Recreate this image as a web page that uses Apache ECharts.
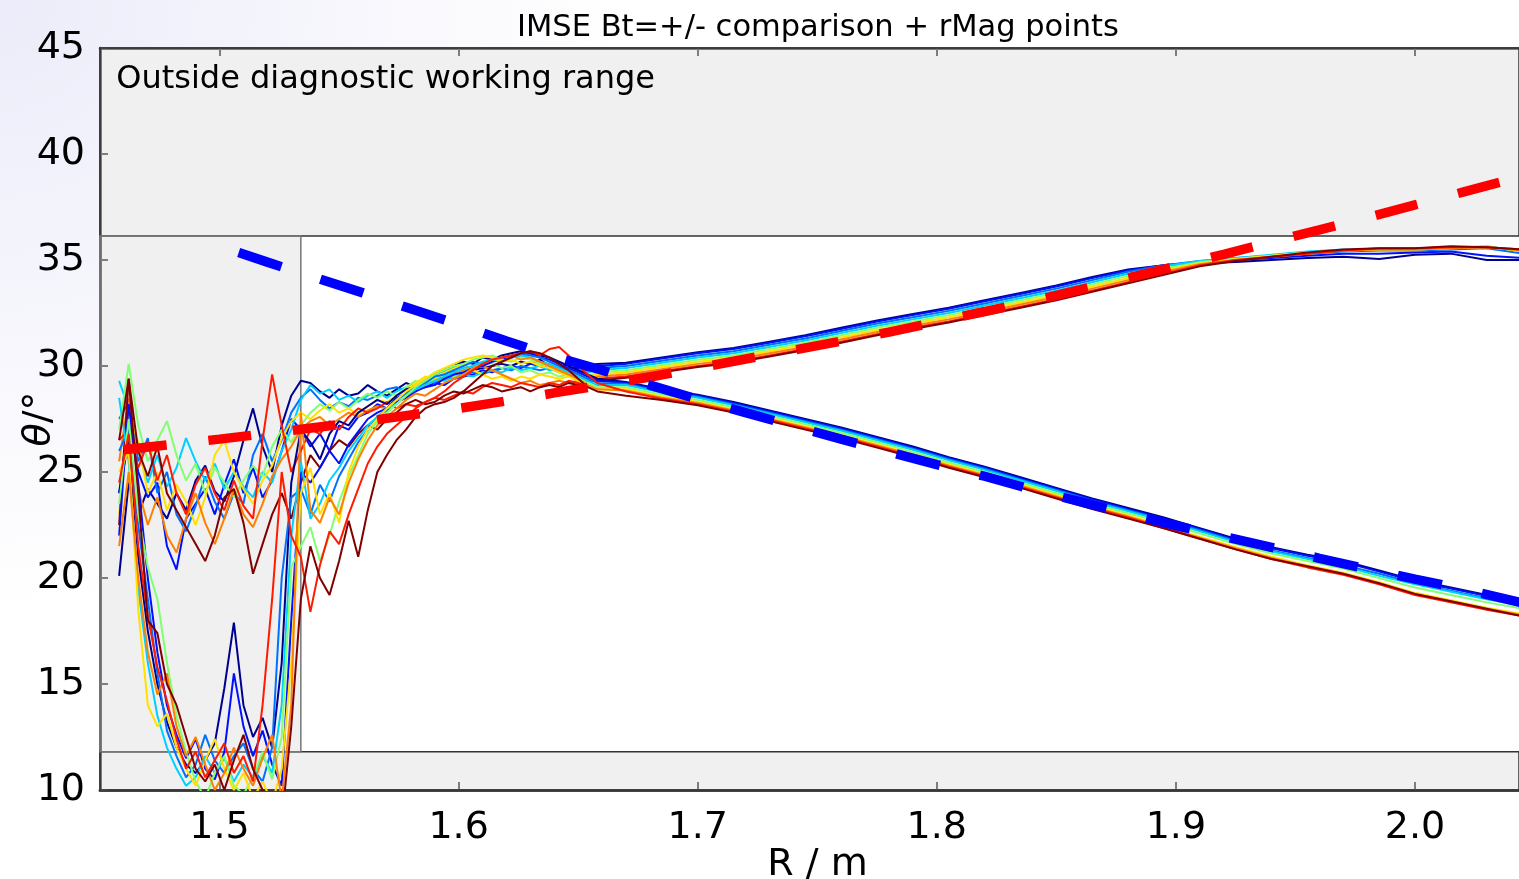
<!DOCTYPE html>
<html>
<head>
<meta charset="utf-8">
<script src="https://cdn.jsdelivr.net/npm/echarts@6/dist/echarts.min.js"></script>
<style>
  html, body { margin: 0; padding: 0; }
  #main { width: 1519px; height: 879px; }
</style>
</head>
<body>
<div id="main"></div>
<script type="text/javascript">
    // radius samples (dense where the profiles are noisy, coarse where smooth)
    var R = [1.458, 1.462, 1.466, 1.470, 1.474, 1.478, 1.482, 1.486, 1.490, 1.494,
        1.498, 1.502, 1.506, 1.510, 1.514, 1.518, 1.522, 1.526, 1.530, 1.534,
        1.538, 1.542, 1.546, 1.550, 1.554, 1.558, 1.562, 1.566, 1.570, 1.574,
        1.578, 1.582, 1.586, 1.590, 1.594, 1.598, 1.602, 1.606, 1.610, 1.614,
        1.618, 1.622, 1.626, 1.630, 1.634, 1.638, 1.642, 1.646, 1.650, 1.654,
        1.658,
        1.670, 1.685, 1.700, 1.715, 1.730, 1.745, 1.760, 1.775, 1.790, 1.805,
        1.820, 1.835, 1.850, 1.865, 1.880, 1.895, 1.910, 1.925, 1.940, 1.955,
        1.970, 1.985, 2.000, 2.015, 2.030, 2.045];

    // Bt+ profiles (rising branch)
    var upNavy = [20.1, 24.5, 23.0, 24.2, 23.5, 22.8, 24.0, 23.2, 24.6, 25.3, 24.1, 23.6, 24.8, 26.5, 28.0, 26.2, 25.0, 27.2, 28.6, 29.3, 29.2, 28.8, 28.5, 28.9, 28.6, 28.7, 29.1, 28.8, 28.6, 28.9, 29.2, 29.0, 29.3, 29.5, 29.4, 29.7, 29.6, 29.8, 29.9, 30.0, 30.1, 30.0, 30.2, 30.1, 30.3, 30.0, 29.9, 30.1, 30.0, 30.0, 30.1,
        30.15, 30.4, 30.65, 30.85, 31.15, 31.45, 31.8, 32.15, 32.45, 32.75, 33.1, 33.45, 33.8, 34.2, 34.55, 34.75, 34.85, 34.9, 35.0, 35.1, 35.15, 35.05, 35.25, 35.3, 35.0, 35.0];
    var upBlue = [24.0, 27.5, 25.0, 23.8, 24.5, 21.5, 20.4, 22.8, 23.5, 24.2, 23.0, 24.4, 25.6, 24.0, 25.2, 23.8, 24.6, 26.0, 27.5, 27.0, 26.2, 26.8, 26.0, 27.2, 27.0, 27.6, 27.8, 28.2, 28.0, 28.5, 28.7, 28.9, 29.0, 29.2, 29.1, 29.4, 29.5, 29.6, 29.8, 29.7, 29.9, 30.0, 29.9, 30.1, 30.0, 29.9, 29.8, 29.9, 29.9, 29.8, 30.0,
        30.1, 30.35, 30.6, 30.8, 31.1, 31.4, 31.75, 32.1, 32.4, 32.7, 33.05, 33.4, 33.75, 34.15, 34.5, 34.75, 34.9, 35.0, 35.1, 35.2, 35.3, 35.3, 35.35, 35.4, 35.2, 35.1];
    var upAzure = [27.5, 28.3, 25.5, 26.6, 24.0, 25.0, 23.0, 22.2, 23.4, 24.8, 23.6, 22.8, 24.0, 23.5, 25.8, 26.8, 25.5, 26.5, 27.8, 28.5, 28.9, 28.4, 28.0, 28.3, 28.1, 28.5, 28.4, 28.6, 28.9, 29.0, 28.8, 29.1, 29.3, 29.2, 29.5, 29.4, 29.6, 29.7, 29.6, 29.8, 29.9, 29.8, 30.0, 29.9, 29.8, 29.9, 29.7, 29.8, 29.8, 29.7, 29.9,
        30.0, 30.25, 30.5, 30.7, 31.0, 31.3, 31.65, 32.0, 32.3, 32.6, 32.95, 33.3, 33.65, 34.05, 34.45, 34.75, 34.95, 35.1, 35.2, 35.3, 35.4, 35.45, 35.45, 35.5, 35.55, 35.3];
    var upCyan = [29.3, 28.0, 26.0, 24.5, 25.8, 24.3, 25.2, 26.6, 25.5, 24.6, 25.4, 24.2, 25.0, 24.3, 23.8, 25.0, 24.5, 26.0, 27.0, 28.4, 29.1, 28.7, 28.9, 28.4, 28.6, 28.3, 28.6, 28.8, 28.5, 28.8, 29.0, 28.9, 29.2, 29.4, 29.3, 29.5, 29.6, 29.5, 29.7, 29.8, 29.7, 29.9, 29.8, 29.9, 30.0, 29.8, 29.9, 29.7, 29.8, 29.7, 29.8,
        29.9, 30.15, 30.4, 30.6, 30.9, 31.2, 31.55, 31.9, 32.2, 32.5, 32.85, 33.2, 33.55, 33.95, 34.35, 34.7, 34.95, 35.1, 35.25, 35.4, 35.5, 35.5, 35.5, 35.55, 35.65, 35.4];
    var upGreen = [27.0, 30.1, 27.2, 25.5, 26.5, 27.4, 25.8, 24.6, 25.4, 24.0, 25.2, 24.5, 23.8, 24.6, 25.3, 24.8, 26.2, 27.0, 26.4, 27.2, 27.8, 28.2, 27.9, 28.3, 28.0, 28.4, 28.7, 28.5, 28.8, 28.6, 29.0, 29.3, 29.1, 29.4, 29.6, 29.5, 29.8, 30.0, 30.2, 30.1, 29.9, 30.0, 29.7, 29.8, 29.6, 29.7, 29.5, 29.6, 29.6, 29.5, 29.7,
        29.8, 30.05, 30.3, 30.5, 30.8, 31.1, 31.45, 31.8, 32.1, 32.4, 32.75, 33.1, 33.45, 33.85, 34.25, 34.6, 34.9, 35.05, 35.2, 35.35, 35.45, 35.5, 35.5, 35.55, 35.65, 35.4];
    var upYellow = [23.0, 27.8, 26.4, 24.0, 25.0, 23.2, 24.4, 23.6, 22.5, 23.8, 25.8, 26.5, 25.0, 24.2, 23.5, 24.6, 25.3, 26.6, 27.4, 27.8, 27.5, 27.9, 28.2, 27.8, 28.0, 27.7, 28.1, 28.4, 28.3, 28.6, 28.9, 29.2, 29.5, 29.4, 29.7, 29.9, 30.1, 29.8, 29.6, 29.4, 29.5, 29.3, 29.5, 29.4, 29.6, 29.5, 29.4, 29.5, 29.4, 29.5, 29.6,
        29.7, 29.95, 30.2, 30.4, 30.7, 31.0, 31.35, 31.7, 32.0, 32.3, 32.65, 33.0, 33.35, 33.75, 34.15, 34.5, 34.85, 35.05, 35.2, 35.35, 35.45, 35.5, 35.5, 35.55, 35.6, 35.45];
    var upOrange = [25.5, 28.5, 24.2, 22.5, 23.8, 22.0, 21.2, 22.8, 24.0, 22.6, 21.6, 22.8, 24.2, 23.0, 22.4, 23.5, 24.8, 25.6, 26.2, 27.0, 27.4, 27.6, 27.2, 27.5, 27.8, 27.6, 27.9, 28.1, 28.0, 28.3, 28.5, 28.8, 29.1, 29.3, 29.4, 29.6, 29.8, 29.9, 30.0, 29.8, 29.6, 29.4, 29.2, 29.3, 29.1, 29.2, 29.3, 29.2, 29.3, 29.4, 29.5,
        29.6, 29.85, 30.1, 30.3, 30.6, 30.9, 31.25, 31.6, 31.9, 32.2, 32.55, 32.9, 33.25, 33.65, 34.05, 34.45, 34.8, 35.0, 35.15, 35.3, 35.45, 35.5, 35.5, 35.55, 35.6, 35.45];
    var upRed = [26.5, 27.0, 25.2, 26.4, 24.6, 25.8, 24.0, 23.0, 24.4, 25.2, 24.0, 23.2, 24.6, 23.4, 22.8, 26.5, 29.6, 27.2, 25.0, 26.0, 27.0, 26.8, 27.4, 27.0, 27.6, 28.0, 27.8, 28.0, 28.3, 28.0, 28.2, 28.1, 28.3, 28.5, 28.4, 28.6, 28.8, 28.7, 29.0, 29.2, 29.1, 29.0, 29.2, 29.1, 29.0, 29.2, 29.1, 29.3, 29.2, 29.3, 29.4,
        29.5, 29.75, 30.0, 30.2, 30.5, 30.8, 31.15, 31.5, 31.8, 32.1, 32.45, 32.8, 33.15, 33.55, 33.95, 34.35, 34.75, 35.0, 35.15, 35.3, 35.45, 35.55, 35.55, 35.6, 35.6, 35.5];
    var upDarkRed = [22.5, 29.4, 26.0, 24.8, 26.2, 24.0, 23.2, 22.4, 21.6, 20.8, 22.0, 23.8, 24.2, 22.6, 20.2, 21.6, 23.0, 24.0, 22.8, 24.5, 25.8, 25.2, 26.0, 26.5, 26.2, 26.8, 27.2, 27.0, 27.5, 27.8, 28.2, 28.4, 28.2, 28.3, 28.6, 28.8, 28.7, 28.9, 29.1, 29.0, 28.8, 28.9, 29.0, 28.8, 29.0, 29.1, 29.0, 29.2, 29.1, 29.3, 29.3,
        29.45, 29.7, 29.95, 30.15, 30.45, 30.75, 31.1, 31.45, 31.75, 32.05, 32.4, 32.75, 33.1, 33.5, 33.9, 34.3, 34.7, 34.95, 35.15, 35.35, 35.5, 35.55, 35.55, 35.65, 35.6, 35.5];

    // Bt- profiles (falling branch)
    var dnNavy = [24.0, 26.5, 21.0, 17.5, 15.0, 13.2, 12.0, 11.2, 10.8, 11.4, 12.2, 14.8, 17.9, 14.0, 12.5, 13.4, 12.0, 16.0, 24.5, 27.0, 26.4, 25.6, 26.8, 27.4, 27.2, 27.8, 28.1, 28.4, 28.2, 28.6, 28.9, 29.0, 29.3, 29.6, 29.8, 30.0, 30.2, 30.1, 30.4, 30.3, 30.5, 30.6, 30.7, 30.6, 30.5, 30.4, 30.2, 30.0, 29.8, 29.6, 29.4,
        29.25, 28.9, 28.65, 28.3, 27.9, 27.5, 27.1, 26.65, 26.2, 25.7, 25.25, 24.75, 24.25, 23.75, 23.3, 22.85, 22.35, 21.85, 21.45, 21.1, 20.8, 20.35, 19.9, 19.55, 19.2, 18.9];
    var dnBlue = [22.0, 28.2, 24.5, 20.0, 16.5, 14.0, 12.6, 11.5, 12.4, 11.0, 10.5, 11.8, 15.5, 13.0, 11.6, 12.8, 11.2, 10.2, 18.0, 25.0, 24.5, 25.2, 26.0, 25.4, 26.3, 26.9, 27.5, 27.8, 28.0, 28.3, 28.5, 28.8, 29.0, 29.1, 29.4, 29.6, 29.7, 29.9, 30.0, 30.2, 30.3, 30.4, 30.5, 30.6, 30.4, 30.3, 30.1, 29.9, 29.7, 29.5, 29.3,
        29.2, 28.85, 28.6, 28.25, 27.85, 27.45, 27.05, 26.6, 26.15, 25.65, 25.2, 24.7, 24.2, 23.7, 23.25, 22.8, 22.3, 21.8, 21.4, 21.05, 20.75, 20.3, 19.85, 19.5, 19.15, 18.85];
    var dnAzure = [26.0, 27.0, 22.5, 19.0, 15.5, 12.8, 11.6, 10.6, 11.2, 12.6, 11.4, 10.8, 11.6, 12.2, 11.0, 10.4, 12.0, 20.0, 23.8, 24.2, 23.0, 24.4, 23.6, 24.8, 25.6, 26.4, 27.0, 27.6, 27.9, 28.4, 28.7, 29.0, 29.2, 29.5, 29.6, 29.8, 30.0, 30.2, 30.1, 30.3, 30.4, 30.5, 30.6, 30.5, 30.4, 30.2, 30.0, 29.8, 29.6, 29.4, 29.2,
        29.15, 28.8, 28.55, 28.2, 27.8, 27.4, 27.0, 26.55, 26.1, 25.6, 25.15, 24.65, 24.15, 23.65, 23.2, 22.75, 22.25, 21.75, 21.3, 20.95, 20.6, 20.2, 19.75, 19.4, 19.05, 18.75];
    var dnCyan = [28.5, 25.5, 19.5, 16.0, 13.5, 12.0, 11.0, 10.2, 10.6, 11.6, 10.8, 11.5, 10.4, 11.2, 10.6, 11.6, 10.8, 14.0, 22.0, 25.5, 22.8, 23.5, 24.6, 25.2, 26.0, 26.6, 27.2, 27.6, 28.0, 28.2, 28.6, 28.9, 29.1, 29.3, 29.5, 29.7, 29.9, 30.0, 30.2, 30.3, 30.2, 30.4, 30.5, 30.4, 30.2, 30.1, 29.9, 29.7, 29.5, 29.3, 29.1,
        29.1, 28.75, 28.5, 28.15, 27.75, 27.35, 26.95, 26.5, 26.05, 25.55, 25.1, 24.6, 24.1, 23.6, 23.15, 22.7, 22.2, 21.7, 21.25, 20.9, 20.55, 20.1, 19.7, 19.35, 19.0, 18.7];
    var dnGreen = [23.5, 27.5, 23.0, 20.5, 19.0, 16.0, 13.5, 11.8, 10.4, 9.6, 10.8, 11.6, 10.2, 9.8, 10.6, 11.8, 10.5, 12.5, 20.5, 21.5, 22.4, 20.8, 22.0, 23.6, 24.8, 25.8, 26.8, 27.4, 27.8, 28.2, 28.6, 29.0, 29.3, 29.6, 29.8, 30.0, 30.1, 30.3, 30.4, 30.5, 30.3, 30.2, 30.4, 30.3, 30.1, 30.0, 29.8, 29.6, 29.4, 29.2, 29.0,
        29.0, 28.65, 28.4, 28.05, 27.65, 27.25, 26.85, 26.4, 25.95, 25.45, 25.0, 24.5, 24.0, 23.5, 23.05, 22.6, 22.1, 21.6, 21.15, 20.8, 20.45, 20.0, 19.55, 19.2, 18.85, 18.55];
    var dnYellow = [25.0, 26.0, 18.5, 14.0, 13.0, 13.6, 12.0, 11.0, 10.2, 11.4, 12.4, 11.0, 10.0, 10.8, 9.6, 10.4, 9.4, 11.0, 16.0, 24.0, 25.2, 23.0, 24.0, 22.6, 25.0, 26.2, 27.0, 27.5, 28.0, 28.4, 28.8, 29.1, 29.4, 29.7, 29.9, 30.1, 30.3, 30.4, 30.5, 30.4, 30.2, 30.3, 30.1, 30.2, 30.0, 29.9, 29.7, 29.5, 29.3, 29.1, 28.9,
        28.9, 28.55, 28.3, 27.95, 27.55, 27.15, 26.75, 26.3, 25.85, 25.35, 24.9, 24.4, 23.9, 23.4, 22.95, 22.45, 21.95, 21.45, 21.0, 20.6, 20.25, 19.8, 19.3, 18.95, 18.6, 18.3];
    var dnOrange = [21.5, 25.0, 20.0, 16.5, 14.5, 15.5, 13.0, 11.6, 12.5, 11.2, 10.0, 10.8, 12.0, 11.0, 10.2, 11.5, 12.6, 9.5, 14.0, 27.8, 23.2, 22.6, 23.8, 23.0, 24.5, 25.6, 26.5, 27.2, 27.6, 28.0, 28.4, 28.7, 28.6, 28.9, 29.2, 29.4, 29.6, 29.9, 30.1, 30.3, 30.4, 30.5, 30.3, 30.4, 30.2, 30.0, 29.8, 29.6, 29.4, 29.1, 28.9,
        28.85, 28.5, 28.25, 27.9, 27.5, 27.1, 26.7, 26.25, 25.8, 25.3, 24.85, 24.35, 23.85, 23.35, 22.9, 22.4, 21.9, 21.4, 20.95, 20.55, 20.2, 19.75, 19.25, 18.9, 18.55, 18.25];
    var dnRed = [24.5, 26.8, 21.5, 18.2, 15.8, 14.2, 12.4, 11.0, 11.8, 10.6, 11.4, 12.2, 10.8, 11.6, 10.4, 14.0, 19.0, 25.0, 22.0, 21.0, 18.4, 20.6, 22.2, 21.6, 23.0, 24.2, 25.4, 26.2, 26.8, 27.2, 27.6, 28.0, 28.3, 28.5, 28.8, 29.2, 29.5, 29.8, 30.1, 30.3, 30.4, 30.5, 30.6, 30.7, 30.5, 30.8, 30.9, 30.5, 30.0, 29.6, 29.2,
        28.8, 28.45, 28.2, 27.85, 27.45, 27.05, 26.65, 26.2, 25.75, 25.25, 24.8, 24.3, 23.8, 23.3, 22.85, 22.35, 21.85, 21.35, 20.9, 20.5, 20.15, 19.7, 19.2, 18.85, 18.5, 18.2];
    var dnDarkRed = [26.5, 29.4, 24.0, 18.0, 17.4, 15.0, 14.0, 12.5, 11.0, 10.4, 11.2, 10.0, 11.4, 12.6, 11.0, 10.0, 9.6, 8.5, 13.0, 19.0, 21.5, 20.0, 19.2, 20.8, 22.7, 21.0, 23.2, 25.0, 25.8, 26.5, 27.0, 27.6, 28.0, 28.2, 28.3, 28.5, 28.8, 29.2, 29.6, 30.0, 30.2, 30.4, 30.6, 30.7, 30.6, 30.4, 30.1, 29.8, 29.4, 29.0, 28.8,
        28.6, 28.4, 28.15, 27.8, 27.4, 27.0, 26.6, 26.15, 25.7, 25.2, 24.75, 24.25, 23.75, 23.25, 22.8, 22.35, 21.85, 21.35, 20.9, 20.55, 20.2, 19.75, 19.25, 18.9, 18.55, 18.2];

    // rMag fit lines
    var redFitR = [1.46, 1.48, 1.50, 1.52, 1.54, 1.56, 1.58, 1.60, 1.62, 1.64, 1.66, 1.68, 1.70, 1.72, 1.74,
        1.76, 1.78, 1.80, 1.82, 1.84, 1.86, 1.88, 1.90, 1.92, 1.94, 1.96, 1.98, 2.00, 2.02, 2.045];
    var redFitTheta = [26.05, 26.3, 26.55, 26.82, 27.1, 27.38, 27.69, 28.0, 28.35, 28.73, 29.1, 29.48, 29.9, 30.33, 30.75,
        31.17, 31.6, 32.08, 32.57, 33.07, 33.6, 34.15, 34.7, 35.27, 35.85, 36.42, 37.0, 37.6, 38.2, 38.95];
    var blueFitR = [1.508, 1.52, 1.54, 1.56, 1.58, 1.60, 1.62, 1.64, 1.66, 1.68, 1.70, 1.72, 1.74, 1.76,
        1.78, 1.80, 1.82, 1.84, 1.86, 1.88, 1.90, 1.92, 1.94, 1.96, 1.98, 2.00, 2.02, 2.045];
    var blueFitTheta = [35.35, 34.9, 34.17, 33.45, 32.7, 31.95, 31.18, 30.45, 29.8, 29.1, 28.43, 27.8, 27.17, 26.55,
        25.95, 25.35, 24.8, 24.17, 23.6, 23.03, 22.47, 21.96, 21.45, 20.93, 20.43, 19.95, 19.48, 18.82];

    // axis ticks and shaded "outside range" limits
    var xTicks = [1.5, 1.6, 1.7, 1.8, 1.9, 2.0];
    var yTicks = [10, 15, 20, 25, 30, 35, 40, 45];
    var rMin = 1.45, rMax = 2.0435;
    var thetaTop = 36.13, thetaBottom = 11.8, rInner = 1.534;

    var profiles = [upNavy, upBlue, upAzure, upCyan, upGreen, upYellow, upOrange, upRed, upDarkRed,
        dnNavy, dnBlue, dnAzure, dnCyan, dnGreen, dnYellow, dnOrange, dnRed, dnDarkRed];
    var jet = ['#00008f', '#0010ff', '#0070ff', '#00d0ff', '#80ff70', '#ffe000', '#ff8000', '#ff1a00', '#800000'];

    function pairs(xs, ys) {
        var out = [];
        for (var i = 0; i < xs.length; i++) out.push([xs[i], ys[i]]);
        return out;
    }

    var font = 'DejaVu Sans';
    var series = [];
    for (var k = 0; k < profiles.length; k++) {
        series.push({
            type: 'line',
            data: pairs(R, profiles[k]),
            showSymbol: false,
            symbol: 'none',
            z: 2,
            lineStyle: { color: jet[k % 9], width: 2 }
        });
    }
    series.push({
        type: 'line',
        data: pairs(redFitR, redFitTheta),
        symbol: 'none',
        z: 3,
        lineStyle: { color: '#ff0000', width: 9.5, type: [43, 42] }
    });
    series.push({
        type: 'line',
        data: pairs(blueFitR, blueFitTheta),
        symbol: 'none',
        z: 3,
        lineStyle: { color: '#0000ff', width: 9.5, type: [45, 41] }
    });
    // shaded regions, drawn over the profiles
    var shade = 'rgba(195,195,200,0.25)';
    series.push({
        type: 'line',
        data: [[rMin, 10]],
        symbol: 'none',
        lineStyle: { opacity: 0 },
        z: 4,
        silent: true,
        markArea: {
            silent: true,
            data: [
                [{
                    xAxis: rMin, yAxis: thetaTop,
                    itemStyle: { color: shade, borderColor: '#333', borderWidth: 1.5 },
                    label: {
                        show: true, position: 'insideTopLeft', offset: [12, 11],
                        formatter: 'Outside diagnostic working range',
                        fontFamily: font, fontSize: 32, color: '#000'
                    }
                }, { xAxis: rMax, yAxis: 45 }],
                [{
                    xAxis: rMin, yAxis: 10,
                    itemStyle: { color: shade, borderColor: '#333', borderWidth: 1.5 },
                    label: { show: false }
                }, { xAxis: rMax, yAxis: thetaBottom }],
                [{
                    xAxis: rMin, yAxis: thetaBottom,
                    itemStyle: { color: shade, borderColor: '#777', borderWidth: 1.5 },
                    label: { show: false }
                }, { xAxis: rInner, yAxis: thetaTop }]
            ]
        }
    });

    var myChart = echarts.init(document.getElementById('main'));
    var option = {
        animation: false,
        backgroundColor: {
            type: 'radial', x: 0, y: 0, r: 0.7,
            colorStops: [{ offset: 0, color: '#ececfa' }, { offset: 1, color: '#ffffff' }]
        },
        title: {
            text: 'IMSE Bt=+/- comparison + rMag points',
            left: 512,
            top: 8,
            textStyle: { fontFamily: font, fontSize: 30.5, fontWeight: 'normal', color: '#000' }
        },
        grid: {
            left: 100, right: 0, top: 48, bottom: 89,
            outerBoundsMode: 'none',
            show: true, backgroundColor: '#ffffff', borderWidth: 0
        },
        xAxis: [{
            type: 'value',
            min: rMin, max: rMax,
            name: 'R / m',
            nameLocation: 'middle',
            nameGap: 56,
            nameMoveOverlap: false,
            nameTextStyle: { fontFamily: font, fontSize: 38, color: '#000', padding: [0, 0, 0, 16] },
            axisLine: { lineStyle: { color: '#444', width: 3 } },
            axisTick: { inside: true, length: 8, customValues: xTicks, lineStyle: { color: '#666', width: 2 } },
            axisLabel: {
                customValues: xTicks, margin: 19,
                fontFamily: font, fontSize: 38, color: '#000',
                formatter: function (v) { return v.toFixed(1); }
            },
            splitLine: { show: false }
        }, {
            type: 'value',
            position: 'top',
            min: rMin, max: rMax,
            axisLine: { lineStyle: { color: '#333', width: 2.5 } },
            axisTick: { inside: true, length: 8, customValues: xTicks, lineStyle: { color: '#666', width: 2 } },
            axisLabel: { show: false },
            splitLine: { show: false }
        }],
        yAxis: {
            type: 'value',
            min: yTicks[0], max: yTicks[yTicks.length - 1], interval: 5,
            name: '{t|θ}/°',
            nameLocation: 'middle',
            nameGap: 42,
            nameMoveOverlap: false,
            nameTextStyle: {
                fontFamily: font, fontSize: 38, color: '#000',
                rich: { t: { fontFamily: font, fontSize: 38, fontStyle: 'italic', color: '#000' } }
            },
            axisLine: { show: true, lineStyle: { color: '#333', width: 2.5 } },
            axisTick: { show: true, inside: true, length: 8, lineStyle: { color: '#666', width: 2 } },
            axisLabel: { margin: 15, fontFamily: font, fontSize: 38, color: '#000' },
            splitLine: { show: false }
        },
        series: series
    };
    myChart.setOption(option);
</script>
</body>
</html>
